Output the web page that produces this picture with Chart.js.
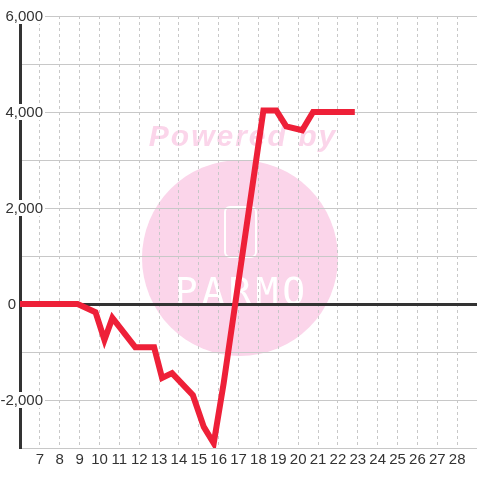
<!DOCTYPE html>
<html>
<head>
<meta charset="utf-8">
<script src="https://cdn.jsdelivr.net/npm/chart.js@4"></script>
<style>
  html, body { margin: 0; padding: 0; background: #fff; }
</style>
</head>
<body>
<canvas id="chart" width="480" height="480"></canvas>
<script>
// data
var dayValues = [6, 8.9, 9.8, 10.25, 10.65, 11.8, 12.75, 13.15, 13.65, 14.7, 15.25, 15.75, 16.25, 18.25, 18.9, 19.4, 20.2, 20.75, 22.85];
var balanceValues = [0, 0, -170, -750, -290, -900, -900, -1540, -1440, -1900, -2560, -2900, -1650, 4030, 4030, 3700, 3620, 4000, 4000];
var xTickLabels = [7, 8, 9, 10, 11, 12, 13, 14, 15, 16, 17, 18, 19, 20, 21, 22, 23, 24, 25, 26, 27, 28];
var yTickValues = [-2000, 0, 2000, 4000, 6000];
var yTickLabels = ['-2,000', '0', '2,000', '4,000', '6,000'];

var points = dayValues.map(function (d, i) { return { x: d, y: balanceValues[i] }; });

var pink = '#fbd5ea';

// background + watermark, under the grid
var watermark = {
  id: 'watermark',
  beforeDraw: function (chart) {
    var ctx = chart.ctx;
    ctx.save();
    ctx.fillStyle = '#fff';
    ctx.fillRect(0, 0, chart.width, chart.height);

    ctx.fillStyle = pink;
    ctx.beginPath();
    ctx.arc(240, 258, 98, 0, Math.PI * 2);
    ctx.fill();

    ctx.font = 'italic bold 30px "Liberation Sans"';
    ctx.letterSpacing = '2px';
    ctx.textAlign = 'center';
    ctx.textBaseline = 'alphabetic';
    ctx.fillText('Powered by', 243, 146);

    ctx.strokeStyle = '#fff';
    ctx.lineWidth = 2;
    ctx.beginPath();
    ctx.roundRect(225, 207, 31, 50, 5);
    ctx.stroke();

    ctx.letterSpacing = '4px';
    ctx.fillStyle = '#fff';
    ctx.font = '38px "DejaVu Sans Mono"';
    ctx.fillText('PARMO', 242, 304);
    ctx.restore();
  }
};

// y labels sit across the axis line with a white backdrop
var yLabels = {
  id: 'yLabels',
  afterDraw: function (chart) {
    var ctx = chart.ctx, y = chart.scales.y, left = chart.chartArea.left;
    ctx.save();
    ctx.font = '15px "Liberation Sans"';
    ctx.textAlign = 'right';
    ctx.textBaseline = 'middle';
    yTickValues.forEach(function (v, i) {
      var py = y.getPixelForValue(v);
      var text = yTickLabels[i];
      var w = ctx.measureText(text).width;
      var right = v === 0 ? left - 4 : left + 23;
      if (v !== 0) {
        ctx.fillStyle = '#fff';
        ctx.fillRect(right - w - 2, py - 8, w + 4, 16);
      }
      ctx.fillStyle = '#333';
      ctx.fillText(text, right, py + 1);
    });
    ctx.restore();
  }
};

new Chart(document.getElementById('chart'), {
  type: 'line',
  data: {
    datasets: [{
      data: points,
      borderColor: '#ee2038',
      borderWidth: 6,
      borderJoinStyle: 'miter',
      pointRadius: 0,
      tension: 0,
      fill: false
    }]
  },
  options: {
    responsive: false,
    animation: false,
    layout: { padding: { top: 16, left: 0, right: 0, bottom: 0 } },
    plugins: { legend: { display: false }, tooltip: { enabled: false } },
    scales: {
      x: {
        type: 'linear',
        min: 6,
        max: 29,
        afterFit: function (s) { s.height = 32; },
        ticks: {
          stepSize: 1,
          autoSkip: false,
          maxRotation: 0,
          padding: 3,
          color: '#333',
          font: { family: 'Liberation Sans', size: 15 },
          callback: function (v) { return xTickLabels.indexOf(v) >= 0 ? String(v) : ''; }
        },
        grid: {
          drawTicks: false,
          lineWidth: 1,
          color: function (c) { return xTickLabels.indexOf(c.tick && c.tick.value) >= 0 ? '#c8c8c8' : 'rgba(0,0,0,0)'; }
        },
        border: { display: false, dash: [3, 3] }
      },
      y: {
        min: -3000,
        max: 6000,
        afterFit: function (s) { s.width = 20; },
        ticks: { stepSize: 1000, display: false },
        grid: {
          drawTicks: false,
          color: function (c) { return c.tick && c.tick.value === 0 ? '#333' : '#c8c8c8'; },
          lineWidth: function (c) { return c.tick && c.tick.value === 0 ? 3 : 1; }
        },
        border: { display: true, color: '#333', width: 3 }
      }
    }
  },
  plugins: [watermark, yLabels]
});
</script>
</body>
</html>
